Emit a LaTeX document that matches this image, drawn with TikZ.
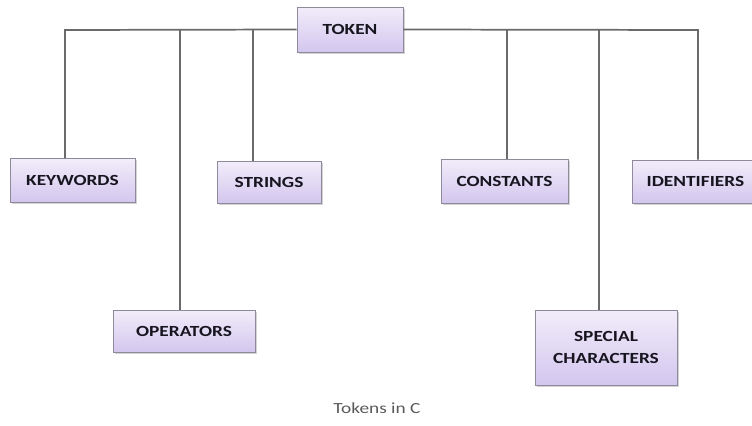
\documentclass[tikz,border=0pt]{standalone}
\usepackage{fontspec}
\usetikzlibrary{shadows}
\newfontfamily\boxfont[FakeStretch=1.25]{Carlito}
\definecolor{lavtop}{HTML}{F2EDFA}
\definecolor{lavbot}{HTML}{D3C6EE}
\definecolor{boxline}{HTML}{8E8A9C}
\definecolor{wire}{HTML}{6A6A6A}
\definecolor{ink}{HTML}{17151F}
\definecolor{capgray}{HTML}{5A5A5A}

\begin{document}
\begin{tikzpicture}[x=0.75pt,y=-0.75pt,
    tokbox/.style={draw=boxline,line width=0.6pt,top color=lavtop,bottom color=lavbot,
      drop shadow={shadow xshift=1.2pt,shadow yshift=-1.2pt,opacity=0.35},
      font=\boxfont\bfseries\fontsize{11.6}{14}\selectfont,text=ink,align=center,
      inner sep=0pt},
    wireline/.style={draw=wire,line width=1.3pt}]
      \useasboundingbox (0,0) rectangle (752,425);
      % top box and the six kinds of token
      \node[tokbox,minimum width=79.5pt,minimum height=33.75pt] (tok) at (350,29.5) {TOKEN};
      \node[tokbox,minimum width=93.75pt,minimum height=33pt] (kw) at (72.5,180.5) {KEYWORDS};
      \node[tokbox,minimum width=78pt,minimum height=31.5pt] (str) at (269,182) {STRINGS};
      \node[tokbox,minimum width=95.25pt,minimum height=33pt] (con) at (504.5,181) {CONSTANTS};
      \node[tokbox,minimum width=120pt,minimum height=32.25pt,anchor=west] (idf) at (632,181.5) {IDENTIFIERS\hspace*{25.5pt}};
      \node[tokbox,minimum width=106.5pt,minimum height=31.5pt] (ops) at (184,331) {OPERATORS};
      \node[tokbox,minimum width=106.5pt,minimum height=56.25pt] (spc) at (606,347.5) {SPECIAL\\[2pt]CHARACTERS};
      % junctions on the top wire
      \coordinate (jkw) at (65,30);
      \coordinate (jops) at (180,30);
      \coordinate (jstr) at (253,30);
      \coordinate (jcon) at (507,30);
      \coordinate (jspc) at (599,30);
      \coordinate (jidf) at (698,30);
      \begin{scope}[wireline]
        \draw (tok.west) -- (jkw) -- (jkw |- kw.north);
        \draw (tok.east) -- (jidf) -- (jidf |- idf.north);
        \draw (jops) -- (jops |- ops.north);
        \draw (jstr) -- (jstr |- str.north);
        \draw (jcon) -- (jcon |- con.north);
        \draw (jspc) -- (jspc |- spc.north);
      \end{scope}
      % caption
      \node[font=\boxfont\fontsize{11.6}{14}\selectfont,text=capgray] (cap) at (377,408) {Tokens in C};
\end{tikzpicture}
\end{document}
